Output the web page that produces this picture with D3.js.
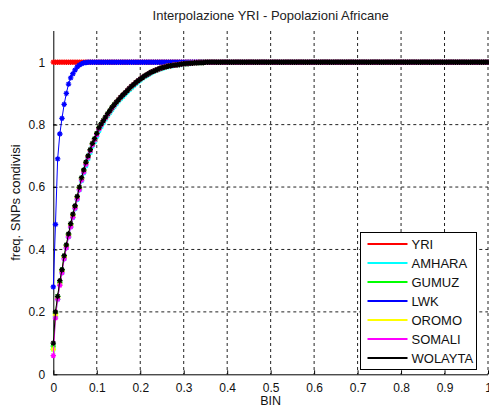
<!DOCTYPE html>
<html>
<head>
<meta charset="utf-8">
<script src="https://cdn.jsdelivr.net/npm/d3@7"></script>
<style>
  html, body { margin: 0; padding: 0; background: #fff; }
  svg { display: block; font-family: "Liberation Sans", Arial, sans-serif; }
</style>
</head>
<body>
<svg id="chart" width="489" height="412"></svg>
<script>
// BIN values (x)
const bins = [
  0,.005,.01,.015,.02,.025,.03,.035,.04,.045,
  .05,.055,.06,.065,.07,.075,.08,.085,.09,.095,
  .1,.105,.11,.115,.12,.125,.13,.135,.14,.145,
  .15,.155,.16,.165,.17,.175,.18,.185,.19,.195,
  .2,.205,.21,.215,.22,.225,.23,.235,.24,.245,
  .25,.255,.26,.265,.27,.275,.28,.285,.29,.295,
  .3,.305,.31,.315,.32,.325,.33,.335,.34,.345,
  .35,.355,.36,.365,.37,.375,.38,.385,.39,.395,
  .4,.405,.41,.415,.42,.425,.43,.435,.44,.445,
  .45,.455,.46,.465,.47,.475,.48,.485,.49,.495,
  .5,.505,.51,.515,.52,.525,.53,.535,.54,.545,
  .55,.555,.56,.565,.57,.575,.58,.585,.59,.595,
  .6,.605,.61,.615,.62,.625,.63,.635,.64,.645,
  .65,.655,.66,.665,.67,.675,.68,.685,.69,.695,
  .7,.705,.71,.715,.72,.725,.73,.735,.74,.745,
  .75,.755,.76,.765,.77,.775,.78,.785,.79,.795,
  .8,.805,.81,.815,.82,.825,.83,.835,.84,.845,
  .85,.855,.86,.865,.87,.875,.88,.885,.89,.895,
  .9,.905,.91,.915,.92,.925,.93,.935,.94,.945,
  .95,.955,.96,.965,.97,.975,.98,.985,.99,.995,
  1
];

const yri = [
  1,1,1,1,1,1,1,1,1,1,
  1,1,1,1,1,1,1,1,1,1,
  1,1,1,1,1,1,1,1,1,1,
  1,1,1,1,1,1,1,1,1,1,
  1,1,1,1,1,1,1,1,1,1,
  1,1,1,1,1,1,1,1,1,1,
  1,1,1,1,1,1,1,1,1,1,
  1,1,1,1,1,1,1,1,1,1,
  1,1,1,1,1,1,1,1,1,1,
  1,1,1,1,1,1,1,1,1,1,
  1,1,1,1,1,1,1,1,1,1,
  1,1,1,1,1,1,1,1,1,1,
  1,1,1,1,1,1,1,1,1,1,
  1,1,1,1,1,1,1,1,1,1,
  1,1,1,1,1,1,1,1,1,1,
  1,1,1,1,1,1,1,1,1,1,
  1,1,1,1,1,1,1,1,1,1,
  1,1,1,1,1,1,1,1,1,1,
  1,1,1,1,1,1,1,1,1,1,
  1,1,1,1,1,1,1,1,1,1,
  1
];

const amhara = [
  .08,.185,.24,.29,.325,.37,.405,.44,.472,.502,
  .53,.56,.59,.62,.645,.668,.69,.71,.73,.745,
  .762,.78,.793,.805,.817,.828,.838,.848,.857,.866,
  .875,.883,.89,.897,.904,.911,.918,.925,.931,.937,
  .942,.948,.953,.957,.961,.965,.969,.972,.975,.978,
  .98,.982,.984,.986,.988,.989,.99,.991,.992,.993,
  .994,.995,.996,.996,.997,.997,.998,.998,.999,.999,
  1,1,1,1,1,1,1,1,1,1,
  1,1,1,1,1,1,1,1,1,1,
  1,1,1,1,1,1,1,1,1,1,
  1,1,1,1,1,1,1,1,1,1,
  1,1,1,1,1,1,1,1,1,1,
  1,1,1,1,1,1,1,1,1,1,
  1,1,1,1,1,1,1,1,1,1,
  1,1,1,1,1,1,1,1,1,1,
  1,1,1,1,1,1,1,1,1,1,
  1,1,1,1,1,1,1,1,1,1,
  1,1,1,1,1,1,1,1,1,1,
  1,1,1,1,1,1,1,1,1,1,
  1,1,1,1,1,1,1,1,1,1,
  1
];

const gumuz = [
  .09,.195,.25,.295,.335,.378,.413,.448,.48,.51,
  .538,.568,.598,.628,.653,.678,.698,.718,.738,.754,
  .772,.79,.802,.813,.824,.835,.845,.855,.864,.872,
  .88,.888,.895,.902,.909,.916,.923,.929,.935,.941,
  .946,.951,.956,.96,.964,.968,.971,.974,.977,.98,
  .982,.984,.986,.988,.989,.99,.991,.992,.993,.994,
  .995,.996,.996,.997,.997,.998,.998,.999,.999,.999,
  1,1,1,1,1,1,1,1,1,1,
  1,1,1,1,1,1,1,1,1,1,
  1,1,1,1,1,1,1,1,1,1,
  1,1,1,1,1,1,1,1,1,1,
  1,1,1,1,1,1,1,1,1,1,
  1,1,1,1,1,1,1,1,1,1,
  1,1,1,1,1,1,1,1,1,1,
  1,1,1,1,1,1,1,1,1,1,
  1,1,1,1,1,1,1,1,1,1,
  1,1,1,1,1,1,1,1,1,1,
  1,1,1,1,1,1,1,1,1,1,
  1,1,1,1,1,1,1,1,1,1,
  1,1,1,1,1,1,1,1,1,1,
  1
];

const lwk = [
  .28,.48,.69,.77,.82,.865,.90,.93,.95,.963,
  .975,.985,.991,.995,.998,.999,1,1,1,1,
  1,1,1,1,1,1,1,1,1,1,
  1,1,1,1,1,1,1,1,1,1,
  1,1,1,1,1,1,1,1,1,1,
  1,1,1,1,1,1,1,1,1,1,
  1,1,1,1,1,1,1,1,1,1,
  1,1,1,1,1,1,1,1,1,1,
  1,1,1,1,1,1,1,1,1,1,
  1,1,1,1,1,1,1,1,1,1,
  1,1,1,1,1,1,1,1,1,1,
  1,1,1,1,1,1,1,1,1,1,
  1,1,1,1,1,1,1,1,1,1,
  1,1,1,1,1,1,1,1,1,1,
  1,1,1,1,1,1,1,1,1,1,
  1,1,1,1,1,1,1,1,1,1,
  1,1,1,1,1,1,1,1,1,1,
  1,1,1,1,1,1,1,1,1,1,
  1,1,1,1,1,1,1,1,1,1,
  1,1,1,1,1,1,1,1,1,1,
  1
];

const oromo = [
  .08,.19,.245,.29,.33,.375,.41,.445,.478,.508,
  .536,.566,.596,.626,.651,.676,.697,.717,.737,.752,
  .77,.788,.80,.811,.822,.833,.843,.853,.862,.871,
  .88,.888,.895,.902,.909,.916,.923,.929,.935,.941,
  .946,.951,.956,.96,.964,.968,.971,.974,.977,.98,
  .982,.984,.986,.988,.989,.99,.991,.992,.993,.994,
  .995,.996,.996,.997,.997,.998,.998,.999,.999,.999,
  1,1,1,1,1,1,1,1,1,1,
  1,1,1,1,1,1,1,1,1,1,
  1,1,1,1,1,1,1,1,1,1,
  1,1,1,1,1,1,1,1,1,1,
  1,1,1,1,1,1,1,1,1,1,
  1,1,1,1,1,1,1,1,1,1,
  1,1,1,1,1,1,1,1,1,1,
  1,1,1,1,1,1,1,1,1,1,
  1,1,1,1,1,1,1,1,1,1,
  1,1,1,1,1,1,1,1,1,1,
  1,1,1,1,1,1,1,1,1,1,
  1,1,1,1,1,1,1,1,1,1,
  1,1,1,1,1,1,1,1,1,1,
  1
];

const somali = [
  .06,.18,.24,.285,.325,.37,.405,.44,.472,.503,
  .532,.562,.592,.622,.648,.673,.695,.716,.735,.751,
  .768,.786,.799,.811,.822,.833,.843,.853,.862,.871,
  .88,.888,.895,.902,.909,.916,.923,.929,.935,.941,
  .946,.951,.956,.96,.964,.968,.971,.974,.977,.98,
  .982,.984,.986,.988,.989,.99,.991,.992,.993,.994,
  .995,.996,.996,.997,.997,.998,.998,.999,.999,.999,
  1,1,1,1,1,1,1,1,1,1,
  1,1,1,1,1,1,1,1,1,1,
  1,1,1,1,1,1,1,1,1,1,
  1,1,1,1,1,1,1,1,1,1,
  1,1,1,1,1,1,1,1,1,1,
  1,1,1,1,1,1,1,1,1,1,
  1,1,1,1,1,1,1,1,1,1,
  1,1,1,1,1,1,1,1,1,1,
  1,1,1,1,1,1,1,1,1,1,
  1,1,1,1,1,1,1,1,1,1,
  1,1,1,1,1,1,1,1,1,1,
  1,1,1,1,1,1,1,1,1,1,
  1,1,1,1,1,1,1,1,1,1,
  1
];

const wolayta = [
  .10,.20,.25,.30,.335,.38,.415,.45,.483,.513,
  .54,.57,.60,.63,.655,.68,.70,.72,.74,.755,
  .772,.79,.802,.813,.824,.835,.845,.855,.864,.872,
  .88,.888,.895,.902,.909,.916,.923,.929,.935,.941,
  .946,.951,.956,.96,.964,.968,.971,.974,.977,.98,
  .982,.984,.986,.988,.989,.99,.991,.992,.993,.994,
  .995,.996,.996,.997,.997,.998,.998,.999,.999,.999,
  1,1,1,1,1,1,1,1,1,1,
  1,1,1,1,1,1,1,1,1,1,
  1,1,1,1,1,1,1,1,1,1,
  1,1,1,1,1,1,1,1,1,1,
  1,1,1,1,1,1,1,1,1,1,
  1,1,1,1,1,1,1,1,1,1,
  1,1,1,1,1,1,1,1,1,1,
  1,1,1,1,1,1,1,1,1,1,
  1,1,1,1,1,1,1,1,1,1,
  1,1,1,1,1,1,1,1,1,1,
  1,1,1,1,1,1,1,1,1,1,
  1,1,1,1,1,1,1,1,1,1,
  1,1,1,1,1,1,1,1,1,1,
  1
];

const names = ["YRI", "AMHARA", "GUMUZ", "LWK", "OROMO", "SOMALI", "WOLAYTA"];
const values = [yri, amhara, gumuz, lwk, oromo, somali, wolayta];
const colors = ["#ff0000", "#00ffff", "#00ff00", "#0000ff", "#ffff00", "#ff00ff", "#000000"];
const xTicks = [0, 0.1, 0.2, 0.3, 0.4, 0.5, 0.6, 0.7, 0.8, 0.9, 1];
const yTicks = [0, 0.2, 0.4, 0.6, 0.8, 1];

const svg = d3.select("#chart");
const margin = {top: 31, right: 1, bottom: 37.7, left: 53.3};
const width = +svg.attr("width") - margin.left - margin.right;
const height = +svg.attr("height") - margin.top - margin.bottom;
const g = svg.append("g").attr("transform", `translate(${margin.left},${margin.top})`);

const x = d3.scaleLinear().domain([0, 1]).range([0, width]);
const y = d3.scaleLinear().domain([0, 1.1]).range([height, 0]);

// grid
g.append("g")
    .selectAll("line")
    .data(xTicks.slice(1))
    .enter().append("line")
    .attr("x1", d => x(d)).attr("x2", d => x(d))
    .attr("y1", 0).attr("y2", height)
    .attr("stroke", "#222").attr("stroke-dasharray", "3,3");
g.append("g")
    .selectAll("line")
    .data(yTicks.slice(1))
    .enter().append("line")
    .attr("x1", 0).attr("x2", width)
    .attr("y1", d => y(d)).attr("y2", d => y(d))
    .attr("stroke", "#222").attr("stroke-dasharray", "3,3");

// axes (matlab style: ticks inside)
const xAxis = g.append("g")
    .attr("transform", `translate(0,${height})`)
    .call(d3.axisBottom(x).tickValues(xTicks).tickSize(-4).tickPadding(9).tickFormat(d3.format("")));
const yAxis = g.append("g")
    .call(d3.axisLeft(y).tickValues(yTicks).tickSize(-4).tickPadding(8).tickFormat(d3.format("")));
[xAxis, yAxis].forEach(a => {
    a.select(".domain").remove();
    a.selectAll("text").attr("font-size", 12).attr("font-family", "Liberation Sans, Arial").attr("fill", "#111");
    a.selectAll("line").attr("stroke", "#000");
});
g.append("line").attr("x1", 0.5).attr("x2", 0.5).attr("y1", 0).attr("y2", height).attr("stroke", "#000");
g.append("line").attr("x1", 0).attr("x2", width).attr("y1", height + 0.5).attr("y2", height + 0.5).attr("stroke", "#000");

// asterisk marker like matlab '*'
const star = {
    draw(ctx, size) {
        const r = Math.sqrt(size) / 2;
        const k = r * 0.7;
        ctx.moveTo(-r, 0); ctx.lineTo(r, 0);
        ctx.moveTo(0, -r); ctx.lineTo(0, r);
        ctx.moveTo(-k, -k); ctx.lineTo(k, k);
        ctx.moveTo(-k, k); ctx.lineTo(k, -k);
    }
};
const marker = d3.symbol().type(star).size(30);

const line = d3.line()
    .x(d => x(d[0]))
    .y(d => y(d[1]));

values.forEach((vals, index) => {
    const pts = bins.map((b, i) => [b, vals[i]]);
    g.append("path")
        .datum(pts)
        .attr("fill", "none")
        .attr("stroke", colors[index])
        .attr("stroke-width", 1)
        .attr("d", line);
    g.append("g")
        .selectAll("path")
        .data(pts)
        .enter().append("path")
        .attr("transform", d => `translate(${x(d[0])},${y(d[1])})`)
        .attr("d", marker)
        .attr("fill", "none")
        .attr("stroke", colors[index])
        .attr("stroke-width", 1.3);
});

// title and labels
svg.append("text")
    .attr("x", margin.left + width / 2)
    .attr("y", 20)
    .attr("text-anchor", "middle")
    .attr("font-size", 13)
    .attr("fill", "#222")
    .text("Interpolazione YRI - Popolazioni Africane");
svg.append("text")
    .attr("x", margin.left + width / 2)
    .attr("y", 405)
    .attr("text-anchor", "middle")
    .attr("font-size", 12.5)
    .attr("fill", "#111")
    .text("BIN");
svg.append("text")
    .attr("transform", `translate(20,${margin.top + height / 2}) rotate(-90)`)
    .attr("text-anchor", "middle")
    .attr("font-size", 13)
    .attr("fill", "#111")
    .text("freq. SNPs condivisi");

// legend
const legend = svg.append("g").attr("transform", "translate(360.5,232.5)");
legend.append("rect")
    .attr("width", 116)
    .attr("height", 137)
    .attr("fill", "#fff")
    .attr("stroke", "#000");
names.forEach((name, index) => {
    const row = legend.append("g").attr("transform", `translate(0,${11.5 + index * 19})`);
    row.append("line")
        .attr("x1", 7).attr("x2", 47)
        .attr("stroke", colors[index])
        .attr("stroke-width", 2);
    row.append("text")
        .attr("x", 51)
        .attr("y", 5)
        .attr("font-size", 13)
        .attr("fill", "#111")
        .text(name);
});
</script>
</body>
</html>
